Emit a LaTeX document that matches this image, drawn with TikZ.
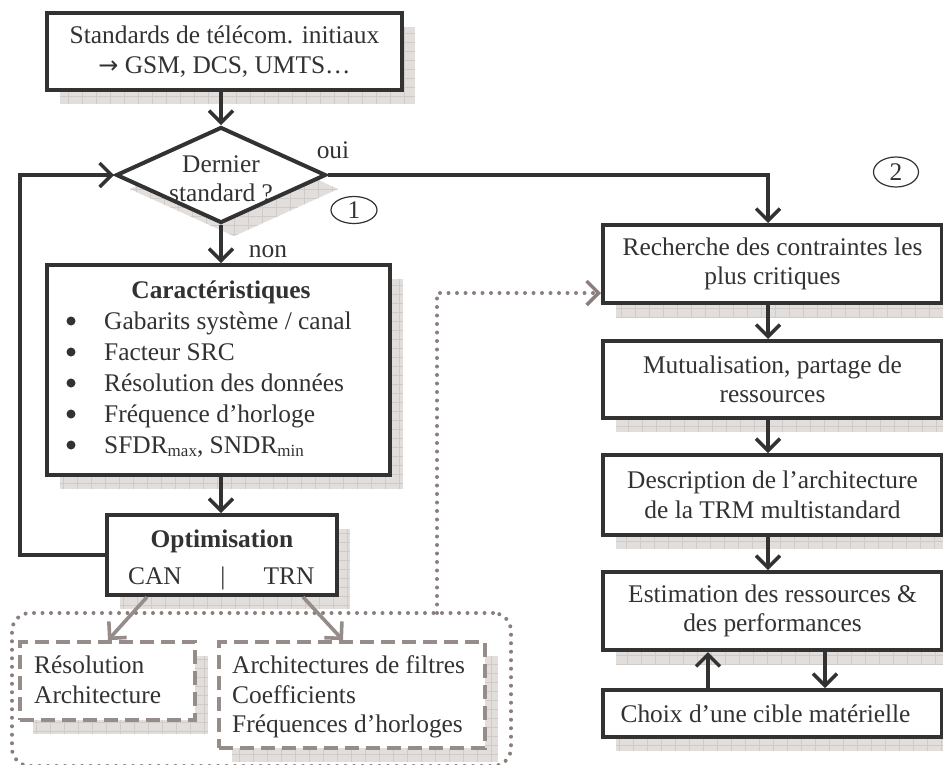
\documentclass[tikz,border=0pt]{standalone}
\usepackage{fontspec}
\setmainfont{Liberation Serif}
\newfontfamily\symf{DejaVu Sans}
\usetikzlibrary{arrows.meta,shapes.geometric,shadows}
\definecolor{dark}{RGB}{50,50,50}
\definecolor{gbrown}{RGB}{150,140,137}
\definecolor{gdot}{RGB}{138,127,124}
\definecolor{shcol}{RGB}{226,222,220}
\definecolor{shgrid}{RGB}{208,202,200}
\newcommand{\bigf}{\fontsize{25.4pt}{29.5pt}\selectfont}
\newcommand{\subf}[1]{\raisebox{-3pt}{\fontsize{17pt}{17pt}\selectfont #1}}
\tikzset{
 shfill/.style={fill=shcol, opacity=1, path picture={\draw[shgrid, solid, line width=0.5pt] (path picture bounding box.south west) grid[xstep=14pt,ystep=9pt] (path picture bounding box.north east);}},
 shad/.style={drop shadow={shadow xshift=13pt, shadow yshift=-14pt, shfill}},
 mybox/.style={draw=dark, line width=4pt, fill=white, inner sep=0pt, text=dark, font=\bigf, align=center, shad},
 decision/.style={diamond, draw=dark, line width=4pt, fill=white, inner sep=0pt, shad},
 dbox/.style={draw=gbrown, line width=3.6pt, dash pattern=on 14pt off 7pt, fill=white, inner sep=0pt, shad},
 dotbox/.style={draw=gdot, line width=4pt, dash pattern=on 0pt off 8.5pt, line cap=round, rounded corners=18pt, inner sep=0pt},
 txt/.style={text=dark, font=\bigf, inner sep=0pt},
 bul/.style={circle, fill=dark, inner sep=0pt, minimum size=9pt},
 arr/.style={draw=dark, line width=3.5pt, -{Straight Barb[length=12pt,width=24pt]}},
 garr/.style={draw=gbrown, line width=3.6pt, -{Straight Barb[length=12pt,width=24pt]}},
 dotarr/.style={draw=gdot, line width=4pt, dash pattern=on 0pt off 8.5pt, line cap=round, -{Straight Barb[length=12pt,width=24pt,line width=3.4pt]}},
 circ/.style={ellipse, draw=dark, line width=1.2pt, inner sep=0pt, text=dark, font=\bigf},
}
\begin{document}
\begin{tikzpicture}[x=1pt,y=-1pt]
\useasboundingbox (0,0) rectangle (943,764);
% group dotted box
\node[dotbox, minimum width=499pt, minimum height=153pt] (grp) at (261.5,689.5) {};
% left column
\node[mybox, minimum width=355pt, minimum height=77pt] (top) at (224.5,51.5) {Standards de télécom. initiaux\\{\symf\fontsize{24pt}{24pt}\selectfont →} GSM, DCS, UMTS…};
\node[decision, minimum width=210pt, minimum height=96pt] (dec) at (221,175) {};
\node[txt, align=center] (dect) at (221,179) {Dernier\\standard ?};
\node[mybox, minimum width=343pt, minimum height=210pt] (caract) at (218.5,370) {};
\node[txt, anchor=base] (ctitle) at (221,298) {\textbf{Caractéristiques}};
\node[bul] (b1) at (71,321) {};
\node[bul] (b2) at (71,352) {};
\node[bul] (b3) at (71,383) {};
\node[bul] (b4) at (71,414) {};
\node[bul] (b5) at (71,445) {};
\node[txt, anchor=base west] (t1) at (104,329) {Gabarits système / canal};
\node[txt, anchor=base west] (t2) at (104,360) {Facteur SRC};
\node[txt, anchor=base west] (t3) at (104,391) {Résolution des données};
\node[txt, anchor=base west] (t4) at (104,422) {Fréquence d’horloge};
\node[txt, anchor=base west] (t5) at (104,453) {SFDR\subf{max}, SNDR\subf{min}};
\node[mybox, minimum width=230pt, minimum height=80pt] (opt) at (222,555) {};
\node[txt, anchor=base] (otitle) at (222,547) {\textbf{Optimisation}};
\node[txt, anchor=base] (can) at (155,584) {CAN};
\node[txt, anchor=base] (bar) at (223,584) {|};
\node[txt, anchor=base] (trn) at (289,584) {TRN};
\node[dbox, minimum width=175pt, minimum height=78pt] (canb) at (107.5,681) {};
\node[txt, anchor=base west] (r1) at (34,673) {Résolution};
\node[txt, anchor=base west] (r2) at (34,703) {Architecture};
\node[dbox, minimum width=266pt, minimum height=106pt] (trnb) at (352,695) {};
\node[txt, anchor=base west] (f1) at (232,673) {Architectures de filtres};
\node[txt, anchor=base west] (f2) at (232,703) {Coefficients};
\node[txt, anchor=base west] (f3) at (232,732) {Fréquences d’horloges};
% labels
\node[txt, anchor=base] (oui) at (333,158) {oui};
\node[txt, anchor=base] (non) at (268,257) {non};
\node[circ, minimum width=46pt, minimum height=27pt] (c1) at (354,210) {1};
\node[circ, minimum width=45pt, minimum height=30pt] (c2) at (896,172) {2};
% right column
\node[mybox, minimum width=339pt, minimum height=78pt] (rech) at (772.5,264) {Recherche des contraintes les\\plus critiques};
\node[mybox, minimum width=339pt, minimum height=77pt] (mut) at (772.5,379.5) {Mutualisation, partage de\\ressources};
\node[mybox, minimum width=339pt, minimum height=80pt] (desc) at (772.5,495) {Description de l’architecture\\de la TRM multistandard};
\node[mybox, minimum width=339pt, minimum height=78pt] (est) at (772.5,611) {Estimation des ressources \&\\des performances};
\node[mybox, minimum width=339pt, minimum height=47pt] (choix) at (772.5,713.5) {Choix d’une cible matérielle\hspace*{14pt}};
% connectors
\coordinate (loopc) at (20,555);
\coordinate (dotc) at (437,613);
\draw[arr] (top.south -| dec.north) -- (dec.north);
\draw[arr] (dec.south) -- (dec.south |- caract.north);
\draw[arr] (caract.south -| dec.south) -- (opt.north -| dec.south);
\draw[arr] (opt.west) -- (loopc) |- (dec.west);
\draw[arr] (dec.east) -| ([xshift=-4.5pt]rech.north);
\draw[arr] ([xshift=-4.5pt]rech.south) -- ([xshift=-4.5pt]mut.north);
\draw[arr] ([xshift=-4.5pt]mut.south) -- ([xshift=-4.5pt]desc.north);
\draw[arr] ([xshift=-4.5pt]desc.south) -- ([xshift=-4.5pt]est.north);
\draw[arr] ([xshift=-64.5pt]choix.north) -- ([xshift=-64.5pt]est.south);
\draw[arr] ([xshift=52.5pt]est.south) -- ([xshift=52.5pt]choix.north);
\draw[garr] ([xshift=-75pt]opt.south) -- ([xshift=0.5pt]canb.north);
\draw[garr] ([xshift=81pt]opt.south) -- ([xshift=-9pt]trnb.north);
\draw[dotarr] (dotc) |- ([yshift=-29pt]rech.west);
\end{tikzpicture}
\end{document}
